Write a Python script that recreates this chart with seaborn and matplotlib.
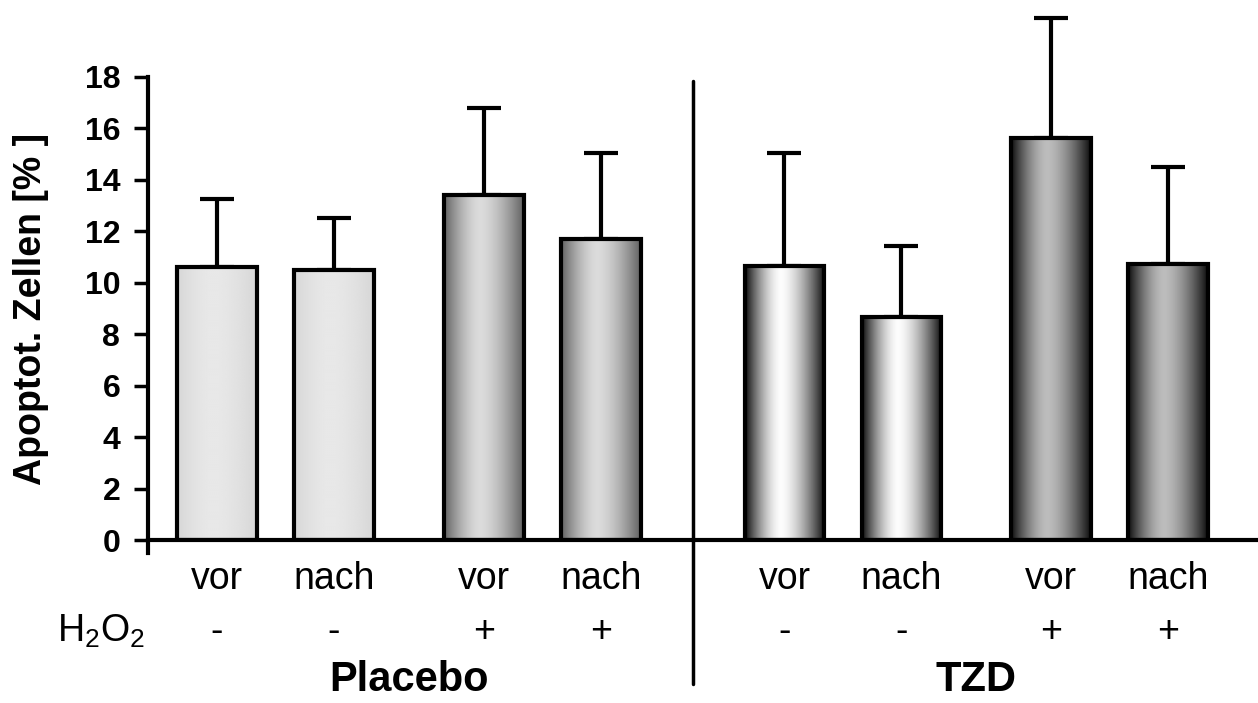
import numpy as np
import pandas as pd
import matplotlib
matplotlib.use("Agg")
import matplotlib.pyplot as plt
import seaborn as sns

# Apoptotic cells before/after treatment, with and without H2O2
groups = ["Placebo", "Placebo", "Placebo", "Placebo", "TZD", "TZD", "TZD", "TZD"]
timepoints = ["vor", "nach", "vor", "nach", "vor", "nach", "vor", "nach"]
h2o2 = ["-", "-", "+", "+", "-", "-", "+", "+"]
means = [10.6, 10.5, 13.4, 11.7, 10.65, 8.67, 15.64, 10.74]
sds = [2.67, 2.02, 3.41, 3.33, 4.41, 2.75, 4.66, 3.78]
yticks = [0, 2, 4, 6, 8, 10, 12, 14, 16, 18]

# slot layout: pair members 1 apart, pairs 1.28 apart, groups 4.85 apart
group_idx = [0, 0, 0, 0, 1, 1, 1, 1]
pair_idx = [0, 0, 1, 1, 0, 0, 1, 1]
member_idx = [0, 1, 0, 1, 0, 1, 0, 1]
xpos = [g * 4.85 + p * 2.28 + m for g, p, m in zip(group_idx, pair_idx, member_idx)]

df = pd.DataFrame({"x": xpos, "mean": means, "sd": sds, "group": groups,
                   "time": timepoints, "h2o2": h2o2})

sns.set_style("white")
plt.rcParams["font.family"] = ["Liberation Sans", "DejaVu Sans"]
plt.rcParams["mathtext.fontset"] = "custom"
plt.rcParams["mathtext.rm"] = "Liberation Sans"
plt.rcParams["mathtext.it"] = "Liberation Sans"
plt.rcParams["text.color"] = "black"
plt.rcParams["axes.labelcolor"] = "black"
plt.rcParams["xtick.color"] = "black"
plt.rcParams["ytick.color"] = "black"
plt.rcParams["axes.edgecolor"] = "black"

W, H = 1258, 703
fig = plt.figure(figsize=(W / 100, H / 100), dpi=100)
ax_left, ax_right, ax_bottom, ax_top = 148, 1258, 540, 77
ax = fig.add_axes([ax_left / W, (H - ax_bottom) / H,
                   (ax_right - ax_left) / W, (ax_bottom - ax_top) / H])

sns.barplot(data=df, x="x", y="mean", native_scale=True, width=0.68,
            color="white", edgecolor="black", linewidth=3, errorbar=None,
            ax=ax, zorder=3)

xlim = (xpos[0] - 0.59, xpos[0] + (ax_right - 217) / 117)

# cylinder-style shading per bar, by group and H2O2 condition
shade = {
    ("Placebo", "-"): (0.84, 0.91),
    ("Placebo", "+"): (0.38, 0.86),
    ("TZD", "-"): (0.05, 0.99),
    ("TZD", "+"): (0.05, 0.74),
}
t = np.linspace(0, 1, 200)
for patch, g, h in zip(ax.patches, groups, h2o2):
    patch.set_facecolor("none")
    dark, light = shade[(g, h)]
    c = 0.45
    d = np.where(t < c, (c - t) / c, (t - c) / (1 - c))
    prof = light - (light - dark) * np.clip(d, 0, 1) ** 1.6
    img = np.tile(prof, (2, 1))
    bx, bw, bh = patch.get_x(), patch.get_width(), patch.get_height()
    im = ax.imshow(img, cmap="gray", vmin=0, vmax=1, aspect="auto",
                   extent=[bx, bx + bw, 0, bh], zorder=2, interpolation="bilinear")
    im.set_clip_path(patch)
ax.set_xlim(*xlim)
ax.set_ylim(0, 18)

# upper error bars only
eb = ax.errorbar(df["x"], df["mean"], yerr=[np.zeros(len(sds)), df["sd"]],
                 fmt="none", ecolor="black", elinewidth=3, capsize=12,
                 capthick=3, zorder=1)
for art in list(eb.lines[1]) + list(eb.lines[2]):
    art.set_clip_on(False)

# axes styling
for s in ["top", "right"]:
    ax.spines[s].set_visible(False)
ax.spines["left"].set_linewidth(3)
ax.spines["left"].set_bounds(-0.5, 18)
ax.spines["bottom"].set_linewidth(3)
ax.spines["bottom"].set_position(("data", 0))
ax.set_yticks(yticks)
ax.set_yticklabels([str(v) for v in yticks], fontsize=23, fontweight="bold")
ax.tick_params(axis="y", direction="out", length=10, width=2.5, left=True, pad=10)
ax.set_xticks([])
ax.set_xlabel("")
ax.set_ylabel("Apoptot. Zellen [% ]", fontsize=27, fontweight="bold",
              va="center", ha="center")
ax.yaxis.set_label_coords((31 - ax_left) / (ax_right - ax_left), 0.5)

# divider between treatment groups
xdiv = (xpos[3] + xpos[4]) / 2
ax.plot([xdiv, xdiv], [17.85, -5.6], color="black", lw=2.5, clip_on=False)

# category rows below the axis
for x, tp, hh in zip(xpos, timepoints, h2o2):
    ax.text(x, -1.90, tp, ha="center", va="baseline", fontsize=27)
    ax.text(x, -3.95, hh, ha="center", va="baseline", fontsize=27)
ax.text(xpos[0] - (217 - 101) / 117, -3.95, r"H$_2$O$_2$", ha="center",
        va="baseline", fontsize=27, clip_on=False)
for gname in ["Placebo", "TZD"]:
    xs = [x for x, g in zip(xpos, groups) if g == gname]
    ax.text(np.mean(xs), -5.86, gname, ha="center", va="baseline",
            fontsize=30, fontweight="bold")

fig.savefig("out.png", dpi=100)
